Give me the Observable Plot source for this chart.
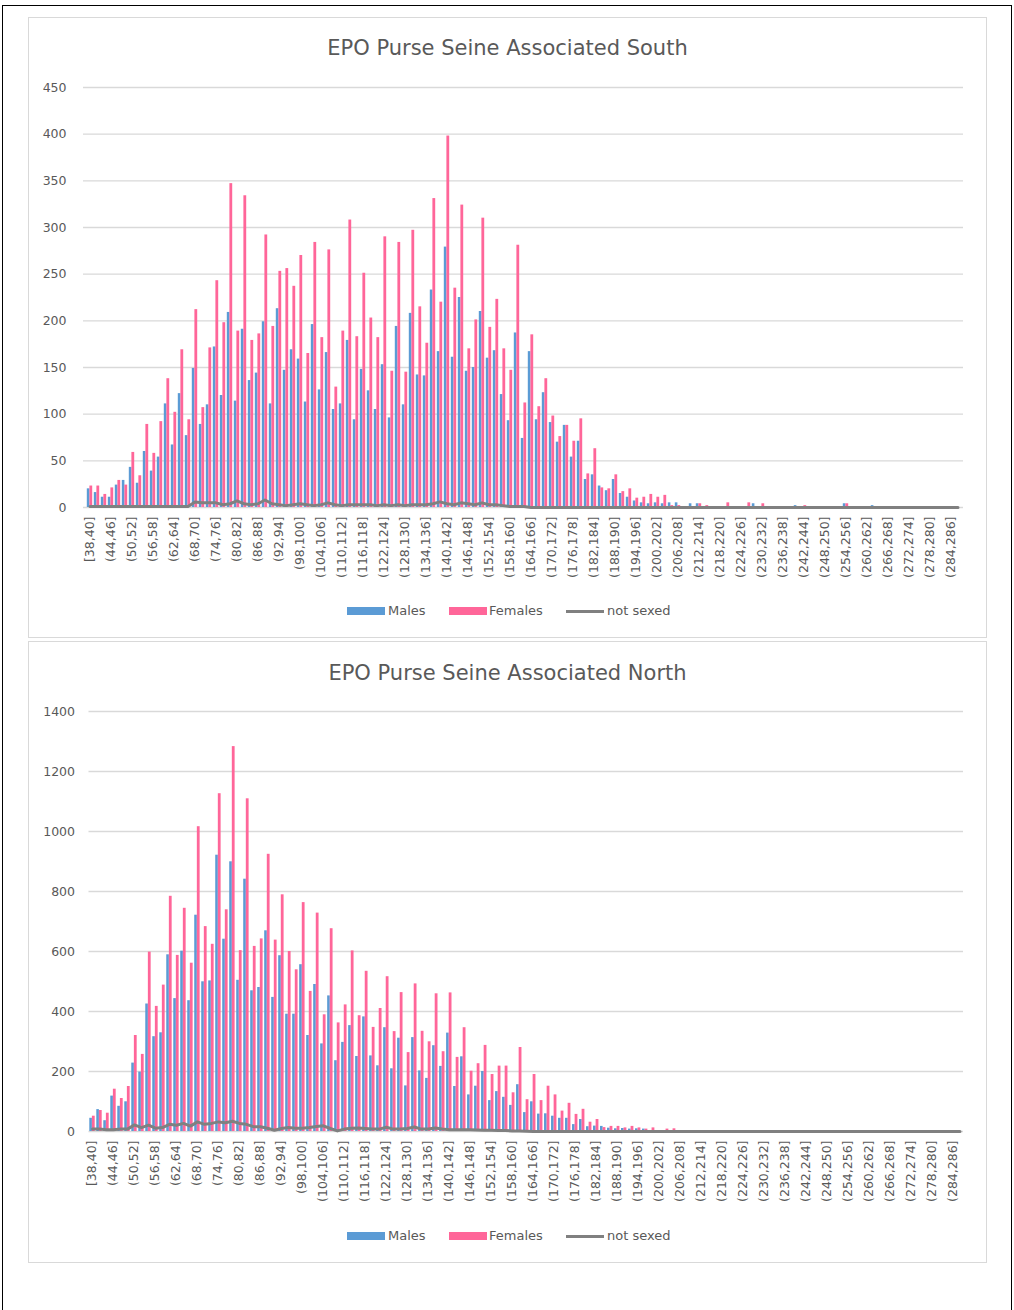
<!DOCTYPE html>
<html><head><meta charset="utf-8">
<script src="https://cdn.jsdelivr.net/npm/d3@7"></script>
<script src="https://cdn.jsdelivr.net/npm/@observablehq/plot@0.6"></script>
<style>
body{margin:0;background:#fff;font-family:"DejaVu Sans",sans-serif;color:#595959;}
#page{position:relative;width:1014px;height:1310px;overflow:hidden;background:#fff;}
.frame{position:absolute;left:2px;top:5px;width:1008px;height:1400px;border:1.5px solid #000;}
.box{position:absolute;left:28px;width:957px;border:1px solid #d9d9d9;background:#fff;}
.title{position:absolute;left:28px;width:959px;text-align:center;font-size:21px;color:#595959;line-height:26px;}
.chart{position:absolute;left:0;}
.legend{position:absolute;left:0;width:1014px;height:18px;font-size:13px;color:#595959;}
.legend span{position:absolute;top:0;line-height:18px;}
.sw{position:absolute;}
</style>
</head><body><div id="page">
<div class="frame"></div>
<div class="box" style="top:17px;height:619px"></div>
<div class="box" style="top:641px;height:620px"></div>
<div class="title" style="top:35px">EPO Purse Seine Associated South</div>
<div class="title" style="top:660px">EPO Purse Seine Associated North</div>
<div id="south" class="chart" style="top:70px"></div>
<div id="north" class="chart" style="top:694px"></div>
<div id="legS" class="legend" style="top:602px"></div>
<div id="legN" class="legend" style="top:1227px"></div>
</div>
<script>
// Length classes: 2 cm bins from 38 to 288
const binStarts = d3.range(38, 288, 2);
const categories = binStarts.map((s, i) => (i === 0 ? "[" : "(") + s + "," + (s + 2) + "]");

const seriesNames = ["Males", "Females", "not sexed"];
const seriesColors = ["#5B9BD5", "#FF6699", "#808080"];

const southMales = [20,16,11,11,24,29,43,26,60,39,54,111,67,122,77,149,89,110,172,120,209,114,191,136,144,199,111,213,147,169,159,113,196,126,166,105,111,179,94,148,125,105,153,96,194,110,208,142,141,233,167,279,161,225,146,150,210,160,168,121,93,187,74,167,94,123,91,70,88,54,71,30,35,23,18,30,15,11,7,5,4,5,4,5,5,1,4,4,1,1,1,1,1,0,1,4,1,1,0,1,1,2,1,0,1,1,1,1,4,1,0,1,2,0,0,0,0,0,0,0,0,0,0,0,0];
const southFemales = [23,23,14,21,29,24,59,34,89,58,92,138,102,169,94,212,107,171,243,198,347,189,334,179,186,292,194,253,256,237,270,165,284,182,276,129,189,308,183,251,203,182,290,146,284,145,297,215,176,331,220,398,235,324,170,201,310,193,223,170,147,281,112,185,108,138,98,76,88,71,95,36,63,21,20,35,17,20,10,11,14,11,13,2,2,1,1,4,2,1,1,5,1,0,5,1,4,1,1,1,0,1,2,1,0,1,1,1,4,1,1,0,1,0,0,0,0,0,0,0,0,0,0,0,0];
const southNotSexed = [1,1,1,1,1,1,1,1,1,1,1,1,1,1,1,6,5,5,5,3,4,7,4,3,4,8,4,3,2,3,4,3,2,3,5,3,2,3,3,3,3,2,3,2,3,2,3,3,3,4,6,4,3,5,4,3,5,3,3,2,1,1,1,0,0,0,0,0,0,0,0,0,0,0,0,0,0,0,0,0,0,0,0,0,0,0,0,0,0,0,0,0,0,0,0,0,0,0,0,0,0,0,0,0,0,0,0,0,0,0,0,0,0,0,0,0,0,0,0,0,0,0,0,0,0];

const northMales = [44,73,36,118,84,99,228,198,425,316,329,589,443,601,436,721,499,502,921,641,899,504,841,469,480,669,447,586,391,391,556,320,490,292,452,236,297,353,250,382,252,219,346,209,311,152,313,202,177,286,217,328,150,249,122,151,200,103,133,114,87,156,63,99,58,59,51,44,44,23,40,16,18,17,11,9,10,8,9,8,3,2,2,1,0,0,0,0,0,0,0,0,0,0,0,0,0,0,0,0,0,0,0,0,0,0,0,0,0,0,0,0,0,0,0,0,0,0,0,0,0,0,0,0,0];
const northFemales = [51,70,61,141,110,150,320,257,598,417,488,784,587,744,561,1016,683,624,1126,739,1283,603,1109,617,642,924,638,789,600,539,763,467,728,389,676,362,422,602,386,534,347,410,516,333,463,263,492,334,299,459,266,462,247,346,201,226,287,190,218,218,129,280,106,190,103,151,122,68,94,57,74,31,40,13,17,17,12,17,12,8,12,2,8,9,1,0,0,0,0,0,0,0,0,0,0,0,0,0,0,0,0,0,0,0,0,0,0,0,0,0,0,0,0,0,0,0,0,0,0,0,0,0,0];
const northNotSexed = [8,8,6,6,8,8,22,13,21,11,13,24,21,27,18,32,24,27,32,29,34,27,24,16,16,11,4,10,13,11,11,13,17,19,10,2,8,11,12,10,8,8,14,8,8,10,15,8,8,12,8,6,6,6,6,5,4,4,3,3,2,2,1,0,0,0,0,0,0,0,0,0,0,0,0,0,0,0,0,0,0,0,0,0,0,0,0,0,0,0,0,0,0,0,0,0,0,0,0,0,0,0,0,0,0,0,0,0,0,0,0,0,0,0,0,0,0,0,0,0,0,0,0,0,0];

const southTicks = d3.range(0, 451, 50);
const northTicks = d3.range(0, 1401, 200);

function table(m, f, n) {
  return categories.map((c, i) => ({cat: c, males: m[i], females: f[i], ns: n[i]}));
}

function chart(rows, yTicks, yMax, marginLeft, tickPad) {
  return Plot.plot({
    width: 1014, height: 517,
    marginLeft, marginRight: 51, marginTop: 17, marginBottom: 80,
    style: {fontFamily: "DejaVu Sans, sans-serif", fontSize: "12.5px", color: "#595959", background: "transparent", overflow: "visible"},
    x: {type: "band", domain: categories, padding: 0, label: null,
        ticks: categories.filter((d, i) => i % 3 === 0), tickSize: 0, tickPadding: 9, tickRotate: -90},
    y: {domain: [0, yMax], ticks: yTicks, label: null, tickSize: 0, tickPadding: tickPad, tickFormat: d => String(d)},
    marks: [
      Plot.ruleY(yTicks, {stroke: "#d9d9d9", strokeWidth: 1.3}),
      Plot.barY(rows, {x: "cat", y: "males", fill: seriesColors[0], insetLeft: 0.8, insetRight: 3.6}),
      Plot.barY(rows, {x: "cat", y: "females", fill: seriesColors[1], insetLeft: 3.4, insetRight: 0.8}),
      Plot.lineY(rows, {x: "cat", y: "ns", stroke: seriesColors[2], strokeWidth: 3, strokeLinejoin: "round"})
    ]
  });
}

document.getElementById("south").append(chart(table(southMales, southFemales, southNotSexed), southTicks, 450, 83, 17));
document.getElementById("north").append(chart(table(northMales, northFemales, northNotSexed), northTicks, 1400, 88.5, 14));

function legend(id) {
  const el = document.getElementById(id);
  const items = [
    {x: 347, tx: 388, kind: "rect"},
    {x: 449, tx: 489, kind: "rect"},
    {x: 566, tx: 607, kind: "line"}
  ];
  items.forEach((it, i) => {
    const sw = document.createElement("div");
    sw.className = "sw";
    sw.style.left = it.x + "px";
    sw.style.width = "38px";
    sw.style.background = seriesColors[i];
    if (it.kind === "rect") { sw.style.top = "5px"; sw.style.height = "8px"; }
    else { sw.style.top = "7.5px"; sw.style.height = "3px"; }
    el.append(sw);
    const t = document.createElement("span");
    t.style.left = it.tx + "px";
    t.textContent = seriesNames[i];
    el.append(t);
  });
}
legend("legS");
legend("legN");
</script>
</body></html>
